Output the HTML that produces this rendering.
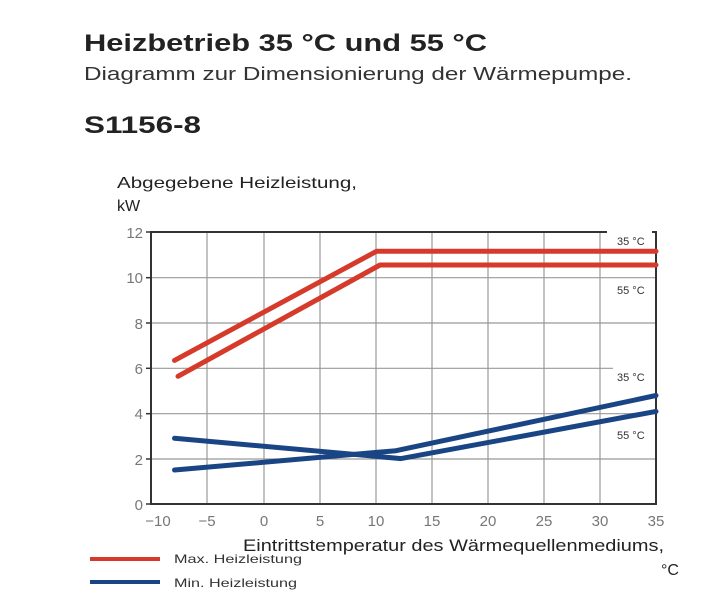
<!DOCTYPE html>
<html><head><meta charset="utf-8"><style>
body{margin:0;width:723px;height:607px;background:#fff;font-family:"Liberation Sans",sans-serif;overflow:hidden}
</style></head><body>
<svg width="723" height="607" viewBox="0 0 723 607" xmlns="http://www.w3.org/2000/svg" font-family="Liberation Sans, sans-serif">
<text x="84" y="51" font-size="24" font-weight="bold" fill="#222" textLength="403" lengthAdjust="spacingAndGlyphs">Heizbetrieb 35  °C und 55  °C</text>
<text x="84" y="80" font-size="18" fill="#333" textLength="548" lengthAdjust="spacingAndGlyphs">Diagramm zur Dimensionierung der Wärmepumpe.</text>
<text x="84" y="133" font-size="24" font-weight="bold" fill="#222" textLength="117" lengthAdjust="spacingAndGlyphs">S1156-8</text>
<text x="117" y="188" font-size="16" fill="#222" textLength="240" lengthAdjust="spacingAndGlyphs">Abgegebene Heizleistung,</text>
<text x="117" y="211" font-size="16" fill="#222">kW</text>
<g stroke="#999" stroke-width="1.2">
<line x1="207" y1="232" x2="207" y2="504"/><line x1="264" y1="232" x2="264" y2="504"/><line x1="320" y1="232" x2="320" y2="504"/><line x1="376" y1="232" x2="376" y2="504"/><line x1="432" y1="232" x2="432" y2="504"/><line x1="488" y1="232" x2="488" y2="504"/><line x1="544" y1="232" x2="544" y2="504"/><line x1="600" y1="232" x2="600" y2="504"/>
<line x1="151" y1="277.7" x2="656" y2="277.7"/><line x1="151" y1="323" x2="656" y2="323"/><line x1="151" y1="368.3" x2="613" y2="368.3"/><line x1="151" y1="413.7" x2="656" y2="413.7"/><line x1="151" y1="459" x2="656" y2="459"/>
</g>
<g stroke="#333" stroke-width="2" fill="none">
<polyline points="607,232 151,232 151,504 656,504 656,232 652,232"/>
</g>
<g stroke="#333" stroke-width="1.5">
<line x1="146" y1="232" x2="151" y2="232"/><line x1="146" y1="277.7" x2="151" y2="277.7"/><line x1="146" y1="323" x2="151" y2="323"/><line x1="146" y1="368.3" x2="151" y2="368.3"/><line x1="146" y1="413.7" x2="151" y2="413.7"/><line x1="146" y1="459" x2="151" y2="459"/><line x1="146" y1="504" x2="151" y2="504"/>
</g>
<g font-size="15" fill="#777" text-anchor="end">
<text x="143" y="238">12</text><text x="143" y="283">10</text><text x="143" y="329">8</text><text x="143" y="374">6</text><text x="143" y="419">4</text><text x="143" y="465">2</text><text x="143" y="510">0</text>
</g>
<g font-size="15" fill="#777" text-anchor="middle">
<text x="158" y="526">−10</text><text x="207" y="526">−5</text><text x="264" y="526">0</text><text x="320" y="526">5</text><text x="376" y="526">10</text><text x="432" y="526">15</text><text x="488" y="526">20</text><text x="544" y="526">25</text><text x="600" y="526">30</text><text x="656" y="526">35</text>
</g>
<g fill="none" stroke-linecap="round" stroke-linejoin="round" stroke-width="5">
<polyline stroke="#d63a2a" points="174.5,360.4 376.5,251.3 656,251.3"/>
<polyline stroke="#d63a2a" points="178,376.3 380,265 656,265"/>
<polyline stroke="#1a4585" points="174.5,438.3 401,458.6 656,411.4"/>
<polyline stroke="#1a4585" points="174.5,470 396,450.7 656,395.5"/>
</g>
<g font-size="11" fill="#333">
<text x="617" y="245">35 °C</text><text x="617" y="294">55 °C</text><text x="617" y="381">35 °C</text><text x="617" y="439">55 °C</text>
</g>
<text x="243" y="551" font-size="17" fill="#222" textLength="421" lengthAdjust="spacingAndGlyphs">Eintrittstemperatur des Wärmequellenmediums,</text>
<text x="661" y="575" font-size="16" fill="#222">°C</text>
<line x1="90" y1="559" x2="160" y2="559" stroke="#d63a2a" stroke-width="4"/>
<text x="174" y="563" font-size="12" fill="#333" textLength="128" lengthAdjust="spacingAndGlyphs">Max. Heizleistung</text>
<line x1="90" y1="582" x2="160" y2="582" stroke="#1a4585" stroke-width="4"/>
<text x="174" y="587" font-size="12" fill="#333" textLength="123" lengthAdjust="spacingAndGlyphs">Min. Heizleistung</text>
</svg>
</body></html>
